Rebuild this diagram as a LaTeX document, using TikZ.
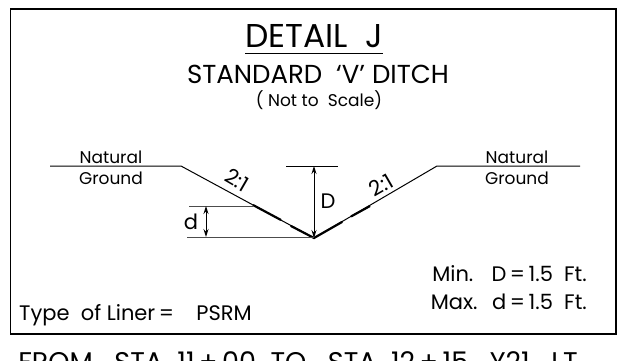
\documentclass[tikz,border=0pt]{standalone}
\usepackage{fontspec}
\setmainfont{Poppins}
\usetikzlibrary{arrows.meta}
\tikzset{
  lbl/.style={inner sep=0pt,font=\fontsize{17}{20}\selectfont},
  big/.style={inner sep=0pt,font=\fontsize{21}{25}\selectfont},
  thinln/.style={line width=1pt,black},
  greyln/.style={line width=0.9pt,black!70},
  liner/.style={line width=2.2pt,black},
  dim/.style={line width=0.9pt,{Stealth[length=8pt,width=5pt]}-{Stealth[length=8pt,width=5pt]}}
}
\begin{document}
\begin{tikzpicture}[x=1pt,y=-1pt]
\useasboundingbox (0,0) rectangle (621,360);
\draw[line width=1.3pt] (10.5,9) rectangle (616,334);
\node[inner sep=0pt,font=\fontsize{33}{38}\selectfont] (title) at (314,36) {DETAIL\ \ J};
\draw[line width=1.2pt] (245,53.5) -- (383,53.5);
\node[inner sep=0pt,font=\fontsize{26}{30}\selectfont] (sub) at (318,74) {STANDARD\ \ `V' DITCH};
\node[inner sep=0pt,font=\fontsize{17}{20}\selectfont] (nts) at (319,100) {( Not to\ \ Scale)};
\coordinate (gl1) at (50,166); \coordinate (gl2) at (181,166);
\coordinate (bot) at (314,238);
\coordinate (gr1) at (437,166); \coordinate (gr2) at (580,166);
\draw[thinln] (gl1) -- (gl2) -- (bot) -- (gr1) -- (gr2);
\coordinate (a1) at (253,205); \coordinate (a2) at (281,220);
\coordinate (b1) at (291,226); \coordinate (b2) at (314,238);
\coordinate (c2) at (342,222); \coordinate (c3) at (351,216.5);
\coordinate (c4) at (370,206);
\draw[liner] (a1) -- (a2);
\draw[liner,line cap=round] (b1) -- (b2) -- (c2);
\draw[liner] (c3) -- (c4);
\node[lbl] (nl1) at (111,157) {Natural};
\node[lbl] (nl2) at (111,178) {Ground};
\node[lbl] (nr1) at (517,157) {Natural};
\node[lbl] (nr2) at (517,178) {Ground};
\node[big,rotate=-30] (sl) at (237,180) {2:1};
\node[big,rotate=30] (sr) at (381,185) {2:1};
\coordinate (dt) at (286,166); \coordinate (dtr) at (338,166);
\draw[thinln] (dt) -- (dtr);
\coordinate (Dt) at (314,166);
\draw[dim] (Dt) -- (bot);
\node[big] (D) at (328,201) {D};
\coordinate (e1) at (189,206); \coordinate (e2) at (253,206);
\coordinate (f1) at (187,237); \coordinate (f2) at (314,237);
\draw[greyln] (e1) -- (e2); \draw[greyln] (f1) -- (f2);
\coordinate (gt) at (206,206); \coordinate (gb) at (206,237);
\draw[dim] (gt) -- (gb);
\node[big] (d) at (191,222) {d};
\node[big,anchor=east] (mn) at (587,274) {Min.\ \ \,\,D\,=\,1.5\ \ Ft.};
\node[big,anchor=east] (mx) at (587,302) {Max.\ \ \,d\,=\,1.5\ \ Ft.};
\node[big,anchor=west] (tl) at (19,315) {Type\ \ of Liner\,=\ \ \ \ PSRM};
\node[inner sep=0pt,font=\fontsize{27}{31}\selectfont] (from) at (298,362) {FROM\ \ \ STA\ \ 11\,+\,00\ \ TO\ \ \ STA\ \ 12\,+\,15\ \ \ Y21\ \ \ LT};
\end{tikzpicture}
\end{document}
